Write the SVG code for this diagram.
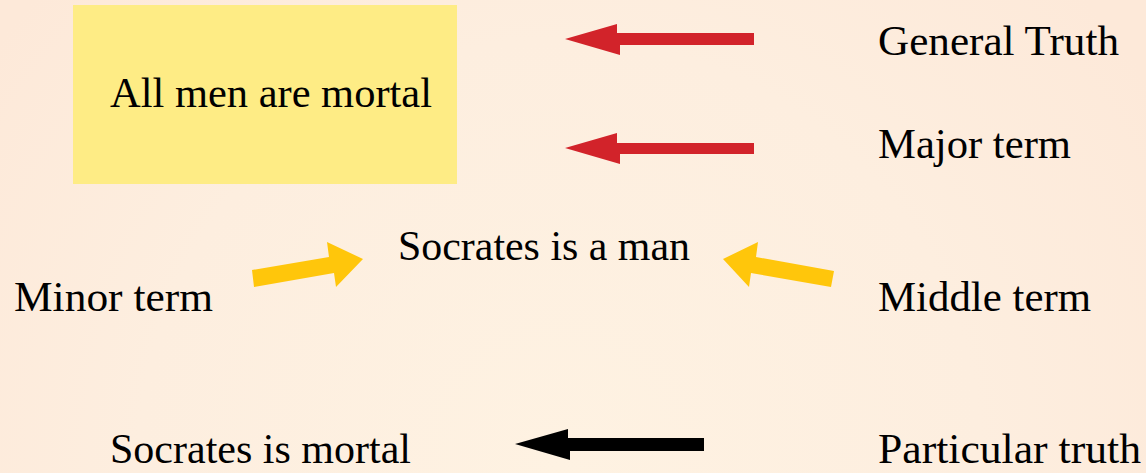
<svg xmlns="http://www.w3.org/2000/svg" width="1146" height="473" viewBox="0 0 1146 473">
<defs>
<radialGradient id="bg" cx="560" cy="460" r="700" gradientUnits="userSpaceOnUse">
<stop offset="0" stop-color="#FEF2E2"/>
<stop offset="0.6" stop-color="#FDEEDF"/>
<stop offset="1" stop-color="#FDE9D9"/>
</radialGradient>
<style>
text{font-family:"Liberation Serif","Times New Roman",serif;font-size:42.5px;fill:#000}
.red{fill:#D2232A}
.yel{fill:#FFC60B}
.blk{fill:#000}
</style>
</defs>
<rect width="1146" height="473" fill="url(#bg)"/>
<g id="premise-major">
<rect x="73" y="5" width="384" height="179" fill="#FEEC85"/>
<text x="110" y="107" textLength="322" lengthAdjust="spacingAndGlyphs">All men are mortal</text>
</g>
<g id="premise-minor"><text x="398" y="260" textLength="292" lengthAdjust="spacingAndGlyphs">Socrates is a man</text></g>
<g id="conclusion"><text x="110" y="463" textLength="301" lengthAdjust="spacingAndGlyphs">Socrates is mortal</text></g>
<g id="label-general"><text x="878" y="55" textLength="241" lengthAdjust="spacingAndGlyphs">General Truth</text></g>
<g id="label-major"><text x="878" y="158" textLength="193" lengthAdjust="spacingAndGlyphs">Major term</text></g>
<g id="label-minor"><text x="14" y="311" textLength="199" lengthAdjust="spacingAndGlyphs">Minor term</text></g>
<g id="label-middle"><text x="878" y="311" textLength="213" lengthAdjust="spacingAndGlyphs">Middle term</text></g>
<g id="label-particular"><text x="878" y="463" textLength="263" lengthAdjust="spacingAndGlyphs">Particular truth</text></g>
<g id="connectors">
<polygon class="red" points="565,39 617,24 617,33 754,33 754,45 620,45 620,55"/>
<polygon class="red" points="565,148 617,133 617,143 754,143 754,154 620,154 620,164"/>
<polygon class="yel" points="252,270 329,257 327,242 363,259 336,287 334,273 254,287"/>
<polygon class="yel" points="723,259 758,242 756,257 834,271 831,287 751,273 749,287"/>
<polygon class="blk" points="515,444 568,429 568,438 704,438 704,451 570,451 570,460"/>
</g>
</svg>
